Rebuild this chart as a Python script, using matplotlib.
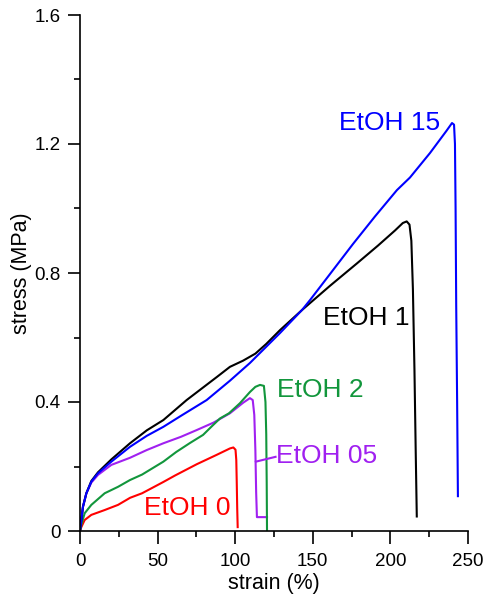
import matplotlib
matplotlib.use("Agg")
import matplotlib.pyplot as plt
from matplotlib.ticker import MultipleLocator

plt.rcParams['font.family'] = ['Liberation Sans', 'DejaVu Sans']

# strain (%) / stress (MPa)
etoh0_x = [0, 0.86, 3, 7.3, 15.9, 24.5, 32.3, 40, 53.7, 61.2, 75.2, 88, 96.6, 98.8, 100.2, 100.7, 101, 101.3, 101.6]
etoh0_y = [0, 0.012, 0.034, 0.050, 0.065, 0.081, 0.103, 0.117, 0.152, 0.172, 0.207, 0.236, 0.256, 0.259, 0.252, 0.22, 0.15, 0.07, 0.012]

etoh05_x = [0, 0.86, 1.9, 4.1, 7.3, 11.6, 20.2, 32.2, 43, 53.7, 65, 75.2, 86, 96.6, 105.2, 109.5, 111.3, 112.3, 113, 113.5, 114, 120.5]
etoh05_y = [0, 0.034, 0.075, 0.117, 0.150, 0.174, 0.205, 0.227, 0.251, 0.272, 0.292, 0.313, 0.336, 0.365, 0.398, 0.412, 0.406, 0.36, 0.25, 0.12, 0.043, 0.043]

etoh1_x = [0, 0.86, 1.9, 4.1, 7.3, 11.6, 20.2, 32.2, 43, 53.7, 68.7, 88.3, 96.6, 105, 113, 120, 128.9, 143, 161, 178.5, 192, 203, 208, 210.5, 212.3, 213.5, 214.5, 215.5, 216.3, 217]
etoh1_y = [0, 0.034, 0.075, 0.117, 0.155, 0.182, 0.222, 0.272, 0.312, 0.344, 0.406, 0.478, 0.509, 0.528, 0.550, 0.580, 0.623, 0.685, 0.760, 0.830, 0.885, 0.932, 0.955, 0.960, 0.950, 0.90, 0.75, 0.50, 0.25, 0.045]

etoh2_x = [0, 0.86, 3, 7.3, 15.9, 24.5, 32.2, 40, 53.7, 62, 70.9, 79.3, 85, 90.2, 96, 103, 109.5, 113, 116, 118.5, 119.5, 120, 120.3, 120.5]
etoh2_y = [0, 0.019, 0.055, 0.081, 0.117, 0.137, 0.158, 0.175, 0.215, 0.245, 0.273, 0.298, 0.325, 0.349, 0.365, 0.396, 0.431, 0.447, 0.453, 0.450, 0.40, 0.30, 0.15, 0.0]

etoh15_x = [0, 0.86, 1.9, 4.1, 7.3, 11.6, 20.2, 32.2, 43, 53.7, 65, 81.6, 96.6, 109.5, 128.9, 143, 148.2, 160, 175.9, 190, 204.2, 212.6, 225.5, 236, 239.7, 241.0, 241.6, 242.0, 242.4, 243, 243.5]
etoh15_y = [0, 0.034, 0.075, 0.117, 0.153, 0.179, 0.215, 0.261, 0.295, 0.323, 0.357, 0.406, 0.466, 0.521, 0.614, 0.685, 0.716, 0.790, 0.890, 0.975, 1.057, 1.096, 1.172, 1.240, 1.265, 1.26, 1.20, 1.00, 0.70, 0.40, 0.108]

# leader line from the EtOH 05 curve to its label
etoh05_lead_x = [113.3, 126]
etoh05_lead_y = [0.215, 0.23]

series = [
    (etoh0_x, etoh0_y, '#ff0000', 'EtOH 0', 69, 0.071),
    (etoh05_x, etoh05_y, '#a020f0', 'EtOH 05', 159, 0.233),
    (etoh2_x, etoh2_y, '#12963c', 'EtOH 2', 154.6, 0.437),
    (etoh1_x, etoh1_y, '#000000', 'EtOH 1', 184.3, 0.660),
    (etoh15_x, etoh15_y, '#0000ff', 'EtOH 15', 199.7, 1.265),
]

fig = plt.figure(figsize=(4.87, 6.04), dpi=100)
ax = fig.add_axes([80 / 487, 73 / 604, 388 / 487, 516 / 604])

for xs, ys, col, name, tx, ty in series:
    ax.plot(xs, ys, color=col, linewidth=1.5, solid_joinstyle='round')
    ax.text(tx, ty, name, color=col, fontsize=19, ha='center', va='center')
ax.plot(etoh05_lead_x, etoh05_lead_y, color='#a020f0', linewidth=1.5)

ax.set_xlim(0, 250)
ax.set_ylim(0, 1.6)
ax.set_xticks([0, 50, 100, 150, 200, 250])
ax.xaxis.set_minor_locator(MultipleLocator(25))
ax.set_yticks([0, 0.4, 0.8, 1.2, 1.6], ['0', '0.4', '0.8', '1.2', '1.6'])
ax.yaxis.set_minor_locator(MultipleLocator(0.2))

for side in ['top', 'right']:
    ax.spines[side].set_visible(False)
for side in ['left', 'bottom']:
    ax.spines[side].set_linewidth(1.2)

ax.tick_params(which='major', direction='out', length=9, width=1.2, labelsize=13.5, pad=5)
ax.tick_params(which='minor', direction='out', length=4.5, width=1.2)
ax.tick_params(axis='x', which='major', pad=7)

ax.set_xlabel('strain (%)', fontsize=15.5, labelpad=2)
ax.set_ylabel('stress (MPa)', fontsize=15.5, labelpad=2)

fig.savefig('out.png', dpi=100)
